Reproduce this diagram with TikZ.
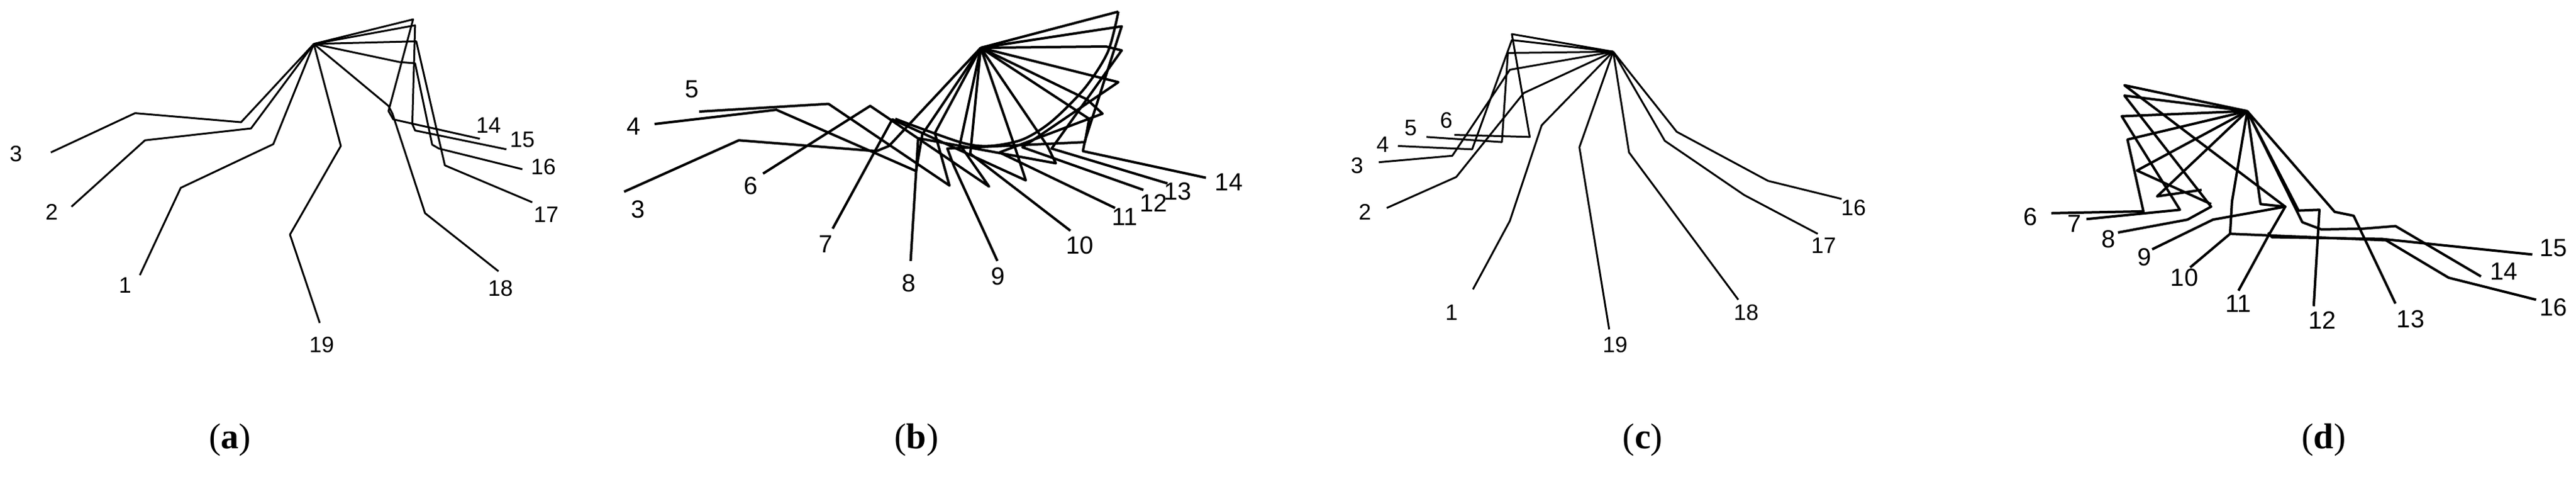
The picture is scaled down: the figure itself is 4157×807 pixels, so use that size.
\documentclass[tikz,border=0pt]{standalone}
\usepackage{fontspec}
\setmainfont{Liberation Serif}
\newfontfamily\lab{Liberation Sans}
\begin{document}
\begin{tikzpicture}[x=1pt,y=1pt,
  ln/.style={line width=3pt,line join=round},
  lnb/.style={line width=4pt,line join=round},
  lb/.style={font=\lab\fontsize{36}{36}\selectfont,inner sep=0pt},
  lbb/.style={font=\lab\fontsize{40}{40}\selectfont,inner sep=0pt},
  captxt/.style={font=\fontsize{58}{58}\selectfont,inner sep=0pt}]
\useasboundingbox (0,0) rectangle (4157,807);
% ---------- (a)
\begin{scope}[shift={(0,807)},xscale=0.641,yscale=-0.4167]
\coordinate (A) at (790,170);
\draw[ln] (128,590)--(340,438)--(607,473)--(A);
\draw[ln] (180,800)--(365,543)--(632,497)--(A);
\draw[ln] (352,1065)--(455,727)--(688,558)--(A);
\draw[ln] (805,1250)--(730,908)--(858,565)--(A);
\draw[ln] (A)--(1040,75)--(978,430)--(990,462)--(1208,537);
\draw[ln] (A)--(1045,98)--(1038,480)--(1045,505)--(1275,578);
\draw[ln] (A)--(1005,240)--(1045,245)--(1088,560)--(1105,575)--(1315,655);
\draw[ln] (A)--(1048,160)--(1120,640)--(1340,783);
\draw[ln] (A)--(978,410)--(988,440)--(1070,825)--(1255,1050);
\node[lb] (a3) at (40,595) {3};
\node[lb] (a2) at (130,820) {2};
\node[lb] (a1) at (315,1105) {1};
\node[lb] (a19) at (810,1335) {19};
\node[lb] (a18) at (1260,1115) {18};
\node[lb] (a17) at (1375,830) {17};
\node[lb] (a16) at (1368,645) {16};
\node[lb] (a15) at (1315,540) {15};
\node[lb] (a14) at (1230,485) {14};
\end{scope}
% ---------- (b)
\begin{scope}[shift={(950,807)},xscale=0.673,yscale=-0.4167]
\coordinate (B) at (940,185);
\draw[lnb] plot[smooth] coordinates {(735,460) (890,550) (960,565) (1040,540) (1110,470) (1190,340) (1245,200) (1270,45)};
\draw[lnb] (85,742)--(360,543)--(690,585)--(720,565)--(B);
\draw[lnb] (158,480)--(450,425)--(785,662)--(800,520)--(B);
\draw[lnb] (265,432)--(575,402)--(865,718)--(830,515)--(B);
\draw[lnb] (418,672)--(675,410)--(960,722)--(890,560)--(B);
\draw[lnb] (585,885)--(728,462)--(1048,698)--(1020,560)--(B);
\draw[lnb] (772,1010)--(790,535)--(1120,632)--(1100,565)--(B);
\draw[lnb] (980,1010)--(875,640)--(860,575)--(1190,550)--(1200,460)--(B);
\draw[lnb] (1155,893)--(915,595)--(B);
\draw[lnb] (1262,805)--(985,590)--(1232,440)--(1195,385)--(B);
\draw[lnb] (1330,735)--(1040,570)--(1270,318)--(1200,290)--(B);
\draw[lnb] (1388,710)--(1110,575)--(1278,195)--(1240,180)--(B);
\draw[lnb] (1480,688)--(1185,585)--(1190,545)--(1278,102)--(B);
\draw[lnb] (B)--(1270,45);
\node[lbb] (b5) at (248,345) {5};
\node[lbb] (b4) at (108,490) {4};
\node[lbb] (b3) at (118,810) {3};
\node[lbb] (b6) at (388,720) {6};
\node[lbb] (b7) at (568,945) {7};
\node[lbb] (b8) at (768,1095) {8};
\node[lbb] (b9) at (982,1070) {9};
\node[lbb] (b10) at (1178,950) {10};
\node[lbb] (b11) at (1285,840) {11};
\node[lbb] (b12) at (1355,785) {12};
\node[lbb] (b13) at (1412,740) {13};
\node[lbb] (b14) at (1535,705) {14};
\end{scope}
% ---------- (c)
\begin{scope}[shift={(2100,807)},xscale=0.641,yscale=-0.4167]
\coordinate (C) at (785,200);
\draw[ln] (C)--(945,510)--(1175,700)--(1360,770);
\draw[ln] (C)--(915,545)--(1115,755)--(1300,905);
\draw[ln] (C)--(825,590)--(1100,1160);
\draw[ln] (C)--(700,570)--(775,1275);
\draw[ln] (C)--(605,485)--(525,855)--(432,1120);
\draw[ln] (C)--(560,360)--(390,685)--(215,805);
\draw[ln] (385,522)--(575,530)--(530,132)--(C);
\draw[ln] (315,530)--(505,550)--(520,205)--(C);
\draw[ln] (243,565)--(430,578)--(530,155)--(C);
\draw[ln] (195,628)--(380,603)--(525,270)--(C);
\node[lb] (c6) at (365,465) {6};
\node[lb] (c5) at (275,495) {5};
\node[lb] (c4) at (205,560) {4};
\node[lb] (c3) at (140,640) {3};
\node[lb] (c2) at (160,820) {2};
\node[lb] (c1) at (378,1210) {1};
\node[lb] (c19) at (790,1335) {19};
\node[lb] (c18) at (1120,1210) {18};
\node[lb] (c17) at (1315,950) {17};
\node[lb] (c16) at (1390,805) {16};
\end{scope}
% ---------- (d)
\begin{scope}[shift={(3200,807)},xscale=0.6135,yscale=-0.4167]
\coordinate (D) at (695,430);
\draw[lnb] (180,825)--(422,818)--(380,540)--(D);
\draw[lnb] (272,848)--(518,812)--(365,450)--(D);
\draw[lnb] (355,900)--(538,850)--(600,800)--(372,370)--(D);
\draw[lnb] (445,965)--(605,850)--(795,800)--(372,330)--(D);
\draw[lnb] (D)--(405,660)--(600,790);
\draw[lnb] (D)--(458,760)--(575,735);
\draw[lnb] (545,1035)--(650,905)--(655,780)--(D);
\draw[lnb] (672,1125)--(748,920)--(795,800)--(730,790)--(D);
\draw[lnb] (870,1185)--(885,812)--(830,815)--(D);
\draw[lnb] (1085,1175)--(975,835)--(925,820)--(D);
\draw[lnb] (1310,1070)--(1085,875)--(1000,885)--(890,888)--(840,860)--(D);
\draw[lnb] (1445,985)--(1050,925)--(760,918)--(750,900);
\draw[lnb] (1455,1160)--(1225,1075)--(1060,930)--(650,905);
\node[lbb] (d6) at (125,840) {6};
\node[lbb] (d7) at (240,865) {7};
\node[lbb] (d8) at (330,925) {8};
\node[lbb] (d9) at (425,995) {9};
\node[lbb] (d10) at (530,1075) {10};
\node[lbb] (d11) at (672,1175) {11};
\node[lbb] (d12) at (892,1240) {12};
\node[lbb] (d13) at (1125,1235) {13};
\node[lbb] (d14) at (1370,1050) {14};
\node[lbb] (d15) at (1500,960) {15};
\node[lbb] (d16) at (1500,1190) {16};
\end{scope}
% captions
\node[captxt] (ca) at (371,97) {(\textbf{a})};
\node[captxt] (cb) at (1479,97) {(\textbf{b})};
\node[captxt] (cc) at (2651,97) {(\textbf{c})};
\node[captxt] (cd) at (3750,97) {(\textbf{d})};
\end{tikzpicture}
\end{document}
